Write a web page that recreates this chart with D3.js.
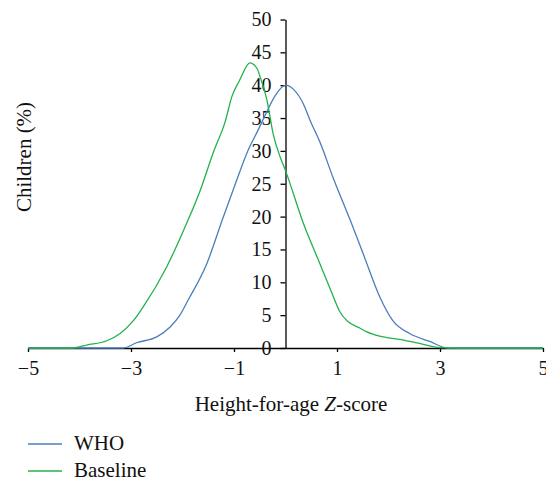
<!DOCTYPE html>
<html>
<head>
<meta charset="utf-8">
<script src="https://cdn.jsdelivr.net/npm/d3@7"></script>
<style>
  body { margin: 0; background: #fff; }
  svg text { font-family: "Liberation Serif", "DejaVu Serif", "Times New Roman", serif; }
</style>
</head>
<body>
<svg width="546" height="478"></svg>
<script>
// height-for-age z-score distribution, % of children
var whoZ   = [-5, -3.15, -2.89, -2.5, -2.24, -2.05, -1.89, -1.53, -1.21, -0.95, -0.72, -0.53, -0.36, -0.2, 0, 0.15, 0.35, 0.48, 0.67, 0.93, 1.26, 1.51, 1.84, 2.08, 2.41, 2.8, 3.15, 5];
var whoVal = [0, 0, 0.8, 1.7, 3.2, 5.0, 7.3, 12.8, 19.9, 25.5, 30.2, 33.2, 36.0, 38.4, 40.0, 39.4, 37.1, 34.6, 31.3, 25.8, 19.4, 14.3, 7.6, 4.2, 2.2, 1.0, 0, 0];

var baseZ   = [-5, -4.13, -3.86, -3.47, -3.21, -2.95, -2.76, -2.31, -1.98, -1.66, -1.4, -1.17, -1.04, -0.9, -0.69, -0.55, -0.49, -0.36, -0.24, -0.1, 0, 0.35, 0.67, 0.93, 1.05, 1.2, 1.45, 1.57, 1.83, 2.21, 2.6, 3.0, 3.3, 5];
var baseVal = [0, 0, 0.45, 1.1, 2.2, 4.2, 6.3, 12.3, 17.9, 23.9, 29.8, 34.5, 38.3, 40.6, 43.4, 42.5, 41.2, 37.7, 32.6, 29.0, 27.0, 18.9, 12.8, 7.8, 5.6, 4.1, 3.0, 2.5, 1.8, 1.3, 0.7, 0.05, 0, 0];

var xTicks = [-5, -3, -1, 1, 3, 5];
var yTicks = [0, 5, 10, 15, 20, 25, 30, 35, 40, 45, 50];

var series = [
  {name: "WHO", color: "#4a7ebb", z: whoZ, v: whoVal},
  {name: "Baseline", color: "#22b24c", z: baseZ, v: baseVal}
];

var serif = "Liberation Serif";
var svg = d3.select("svg");

var x = d3.scaleLinear().domain([-5, 5]).range([28, 543]);
var y = d3.scaleLinear().domain([0, 50]).range([348, 19.5]);

var line = d3.line()
  .x(function(d) { return x(d[0]); })
  .y(function(d) { return y(d[1]); })
  .curve(d3.curveMonotoneX);

// axes
svg.append("g")
  .attr("transform", "translate(0," + y(0) + ")")
  .call(d3.axisBottom(x).tickValues(xTicks).tickSize(4).tickSizeOuter(0).tickPadding(9)
    .tickFormat(function(d) { return d < 0 ? "\u2212" + Math.abs(d) : d; }));

svg.append("g")
  .attr("transform", "translate(" + x(0) + ",0)")
  .call(d3.axisLeft(y).tickValues(yTicks).tickSize(5).tickSizeOuter(0).tickPadding(9));

svg.selectAll("g").attr("font-family", serif).attr("font-size", 20);
svg.selectAll(".domain, .tick line").attr("stroke", "#000").attr("stroke-width", 1.3);
svg.selectAll(".tick text").attr("fill", "#111");

// curves
series.forEach(function(s) {
  svg.append("path")
    .datum(s.z.map(function(z, i) { return [z, s.v[i]]; }))
    .attr("fill", "none")
    .attr("stroke", s.color)
    .attr("stroke-width", 1.3)
    .attr("d", line);
});

// axis titles
var xt = svg.append("text")
  .attr("x", 291).attr("y", 411)
  .attr("text-anchor", "middle")
  .attr("fill", "#111")
  .attr("font-family", serif)
  .attr("font-size", 21);
xt.append("tspan").text("Height-for-age ");
xt.append("tspan").attr("font-style", "italic").text("Z");
xt.append("tspan").text("-score");

svg.append("text")
  .attr("transform", "translate(31,157) rotate(-90)")
  .attr("text-anchor", "middle")
  .attr("fill", "#111")
  .attr("font-family", serif)
  .attr("font-size", 21)
  .text("Children (%)");

// legend
var leg = svg.selectAll(".legend")
  .data(series)
  .enter().append("g")
  .attr("class", "legend")
  .attr("transform", function(d, i) { return "translate(28," + (444 + i * 27) + ")"; });

leg.append("line")
  .attr("x1", 0).attr("x2", 34)
  .attr("stroke", function(d) { return d.color; })
  .attr("stroke-width", 1.3);

leg.append("text")
  .attr("x", 46).attr("y", 6)
  .attr("fill", "#111")
  .attr("font-family", serif)
  .attr("font-size", 21)
  .text(function(d) { return d.name; });
</script>
</body>
</html>
